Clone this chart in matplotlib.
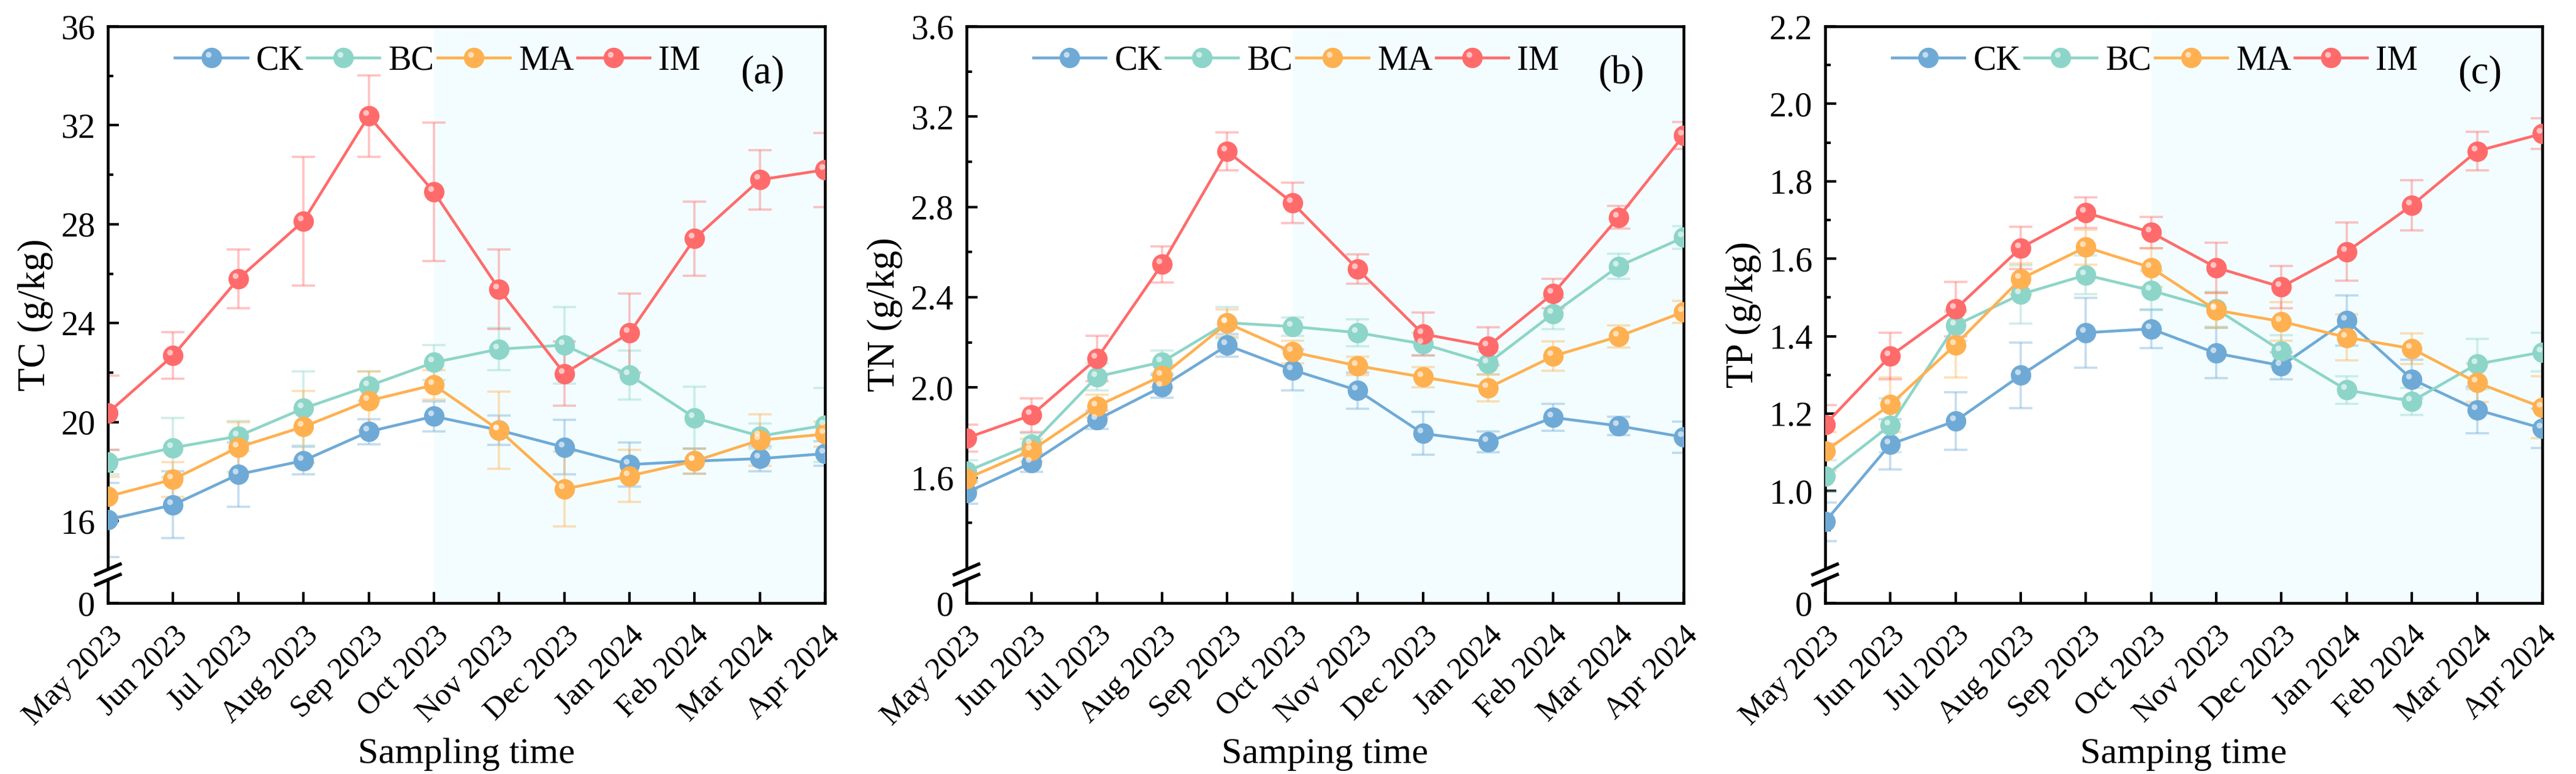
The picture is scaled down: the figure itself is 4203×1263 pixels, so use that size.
import numpy as np
import matplotlib
matplotlib.use("Agg")
import matplotlib.pyplot as plt
from matplotlib.path import Path
from matplotlib.ticker import FixedLocator, FuncFormatter
from matplotlib.transforms import ScaledTranslation

plt.rcParams["font.family"] = ["Liberation Serif", "DejaVu Serif"]

months = ["May 2023", "Jun 2023", "Jul 2023", "Aug 2023", "Sep 2023", "Oct 2023",
          "Nov 2023", "Dec 2023", "Jan 2024", "Feb 2024", "Mar 2024", "Apr 2024"]
groups = ["CK", "BC", "MA", "IM"]
colors = ["#6FAAD6", "#8DD5C8", "#FFB050", "#FF6B6B"]
shade_start = 5  # Oct 2023

# TC (g/kg)
tc_ck = [16.05, 16.65, 17.88, 18.44, 19.61, 20.23, 19.67, 18.98, 18.28, 18.42, 18.52, 18.72]
tc_bc = [18.38, 18.96, 19.43, 20.55, 21.46, 22.41, 22.95, 23.11, 21.90, 20.17, 19.43, 19.87]
tc_ma = [16.99, 17.68, 18.98, 19.81, 20.86, 21.50, 19.67, 17.29, 17.82, 18.42, 19.27, 19.51]
tc_im = [20.37, 22.69, 25.79, 28.13, 32.38, 29.30, 25.37, 21.96, 23.60, 27.42, 29.80, 30.20]
tc_ck_err = [1.5, 1.35, 1.3, 0.55, 0.5, 0.6, 0.6, 1.1, 0.9, 0.5, 0.5, 0.5]
tc_bc_err = [0.5, 1.2, 0.6, 1.5, 0.6, 0.7, 0.85, 1.55, 1.0, 1.25, 0.5, 1.5]
tc_ma_err = [0.8, 0.7, 1.0, 1.45, 1.2, 0.6, 1.55, 1.5, 1.05, 0.5, 1.05, 0.5]
tc_im_err = [1.5, 0.95, 1.2, 2.6, 1.65, 2.8, 1.6, 1.3, 1.6, 1.5, 1.2, 1.5]

# TN (g/kg)
tn_ck = [1.535, 1.667, 1.857, 2.004, 2.187, 2.078, 1.987, 1.796, 1.759, 1.867, 1.830, 1.780]
tn_bc = [1.628, 1.748, 2.048, 2.113, 2.287, 2.270, 2.243, 2.193, 2.107, 2.328, 2.537, 2.665]
tn_ma = [1.596, 1.722, 1.917, 2.052, 2.285, 2.157, 2.096, 2.046, 1.998, 2.139, 2.226, 2.335]
tn_im = [1.776, 1.878, 2.128, 2.546, 3.046, 2.818, 2.524, 2.237, 2.183, 2.417, 2.754, 3.117]
tn_ck_err = [0.05, 0.04, 0.04, 0.05, 0.05, 0.09, 0.08, 0.095, 0.045, 0.06, 0.04, 0.07]
tn_bc_err = [0.05, 0.05, 0.06, 0.05, 0.07, 0.04, 0.06, 0.05, 0.05, 0.07, 0.055, 0.05]
tn_ma_err = [0.05, 0.05, 0.05, 0.05, 0.06, 0.05, 0.04, 0.045, 0.06, 0.065, 0.05, 0.05]
tn_im_err = [0.06, 0.075, 0.1, 0.08, 0.085, 0.09, 0.065, 0.095, 0.085, 0.065, 0.05, 0.06]

# TP (g/kg)
tp_ck = [0.921, 1.121, 1.181, 1.299, 1.409, 1.419, 1.356, 1.324, 1.441, 1.289, 1.210, 1.162]
tp_bc = [1.039, 1.170, 1.428, 1.508, 1.558, 1.518, 1.470, 1.362, 1.261, 1.232, 1.328, 1.359]
tp_ma = [1.103, 1.223, 1.378, 1.548, 1.630, 1.577, 1.467, 1.438, 1.397, 1.368, 1.280, 1.216]
tp_im = [1.172, 1.349, 1.470, 1.628, 1.719, 1.668, 1.577, 1.527, 1.618, 1.738, 1.878, 1.923]
tp_ck_err = [0.05, 0.065, 0.075, 0.085, 0.09, 0.05, 0.065, 0.035, 0.065, 0.05, 0.06, 0.05]
tp_bc_err = [0.04, 0.07, 0.04, 0.075, 0.05, 0.05, 0.045, 0.04, 0.035, 0.035, 0.065, 0.05]
tp_ma_err = [0.05, 0.07, 0.085, 0.04, 0.045, 0.05, 0.045, 0.05, 0.06, 0.04, 0.05, 0.08]
tp_im_err = [0.05, 0.06, 0.07, 0.055, 0.04, 0.04, 0.065, 0.055, 0.075, 0.065, 0.05, 0.04]

panels = [
    dict(vals=[tc_ck, tc_bc, tc_ma, tc_im], errs=[tc_ck_err, tc_bc_err, tc_ma_err, tc_im_err],
         ylabel="TC (g/kg)", xlabel="Sampling time", tag="(a)",
         top=36, lo=12.68, brk=13.85, major=[16, 20, 24, 28, 32, 36],
         minor=[18, 22, 26, 30, 34], fmt="%d"),
    dict(vals=[tn_ck, tn_bc, tn_ma, tn_im], errs=[tn_ck_err, tn_bc_err, tn_ma_err, tn_im_err],
         ylabel="TN (g/kg)", xlabel="Samping time", tag="(b)",
         top=3.6, lo=1.045, brk=1.173, major=[1.6, 2.0, 2.4, 2.8, 3.2, 3.6],
         minor=[1.4, 1.8, 2.2, 2.6, 3.0, 3.4], fmt="%.1f"),
    dict(vals=[tp_ck, tp_bc, tp_ma, tp_im], errs=[tp_ck_err, tp_bc_err, tp_ma_err, tp_im_err],
         ylabel="TP (g/kg)", xlabel="Samping time", tag="(c)",
         top=2.2, lo=0.711, brk=0.785, major=[1.0, 1.2, 1.4, 1.6, 1.8, 2.0, 2.2],
         minor=[0.9, 1.1, 1.3, 1.5, 1.7, 1.9, 2.1], fmt="%.1f"),
]

# off-centre highlight spot for the "ball" markers
t = np.linspace(0, 2 * np.pi, 40)
hl_verts = np.column_stack([-0.32 + 0.30 * np.cos(t), 0.32 + 0.30 * np.sin(t)])
hl_verts = np.vstack([[[1.0, 0.0]], [[-1.0, 0.0]], hl_verts])
hl_codes = [Path.MOVETO, Path.MOVETO, Path.MOVETO] + [Path.LINETO] * (len(t) - 2) + [Path.CLOSEPOLY]
hl_marker = Path(hl_verts, hl_codes)

ms = 7.6
fig = plt.figure(figsize=(4203 / 300, 1263 / 300), dpi=300)
lefts = [0.0419, 0.3752, 0.7085]
x = np.arange(len(months))

for left, p in zip(lefts, panels):
    ax = fig.add_axes([left, 0.2209, 0.2784, 0.745])
    lo, brk = p["lo"], p["brk"]

    def fwd(v, lo=lo, brk=brk):
        v = np.asarray(v, dtype=float)
        return np.where(v >= brk, v, lo + v * (brk - lo) / brk)

    def inv(u, lo=lo, brk=brk):
        u = np.asarray(u, dtype=float)
        return np.where(u >= brk, u, (u - lo) * brk / (brk - lo))

    ax.set_yscale("function", functions=(fwd, inv))
    ax.axvspan(shade_start, len(months) - 1, color="#F3FDFF", zorder=0, lw=0)

    handles = []
    for g, c, v, e in zip(groups, colors, p["vals"], p["errs"]):
        ax.errorbar(x, v, yerr=e, fmt="none", ecolor=c, alpha=0.4, elinewidth=0.9,
                    capsize=4.5, capthick=0.9, zorder=2)
        ln, = ax.plot(x, v, color=c, lw=1.1, marker="o", ms=ms, mfc=c,
                      mec=c, mew=0.4, zorder=3)
        hl, = ax.plot(x, v, ls="none", marker=hl_marker, ms=ms, mfc="white",
                      mec="none", alpha=0.6, zorder=4)
        handles.append((ln, hl))

    ax.set_xlim(0, len(months) - 1)
    ax.set_ylim(0, p["top"])
    ax.set_xticks(x)
    ax.set_xticklabels(months, rotation=45, ha="right", va="top", rotation_mode="anchor")
    offset = ScaledTranslation(7.5 / 72, 0, fig.dpi_scale_trans)
    for lab in ax.get_xticklabels():
        lab.set_transform(lab.get_transform() + offset)

    ax.yaxis.set_major_locator(FixedLocator([0] + p["major"]))
    ax.yaxis.set_minor_locator(FixedLocator(p["minor"]))
    ax.yaxis.set_major_formatter(
        FuncFormatter(lambda v, pos, f=p["fmt"]: "0" if abs(v) < 1e-9 else f % v))

    ax.tick_params(axis="both", which="major", direction="in", length=4.4, width=1.0,
                   top=False, right=False)
    ax.tick_params(axis="x", pad=7, labelsize=12.2)
    ax.tick_params(axis="y", pad=5, labelsize=13.5)
    ax.tick_params(axis="y", which="minor", direction="in", length=2.2, width=1.0)
    for s in ax.spines.values():
        s.set_linewidth(1.1)

    ax.set_ylabel(p["ylabel"], fontsize=15, labelpad=3)
    ax.set_xlabel(p["xlabel"], fontsize=14.5, va="center")
    ax.xaxis.set_label_coords(0.5, -0.262)

    ax.legend(handles, groups, loc="center", bbox_to_anchor=(0.46, 0.94), ncol=4,
              frameon=False, fontsize=13.5, handlelength=2.1, handletextpad=0.25,
              columnspacing=0.1, borderaxespad=0)
    ax.text(0.913, 0.918, p["tag"], transform=ax.transAxes, fontsize=15.5,
            ha="center", va="center")

    # axis break marks on the left spine
    dx, dy = 0.017, 0.009
    ax.plot([0, 0], [0.0404, 0.0584], transform=ax.transAxes, color="white",
            lw=3, clip_on=False, zorder=5, solid_capstyle="butt")
    for yc in (0.0404, 0.0584):
        ax.plot([-dx, dx], [yc - dy, yc + dy], transform=ax.transAxes, color="black",
                lw=1.3, clip_on=False, zorder=6)

fig.savefig("out.png", dpi=300)
